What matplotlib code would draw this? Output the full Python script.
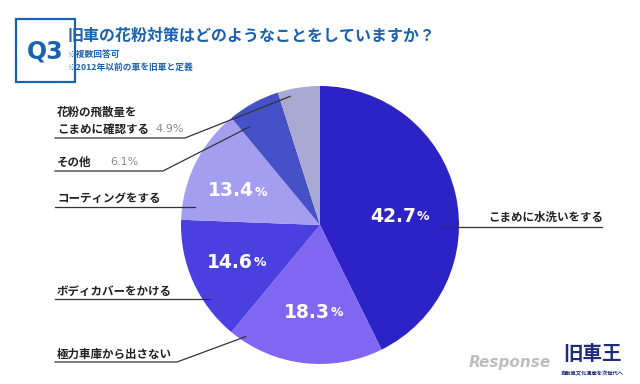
import numpy as np
import matplotlib
matplotlib.use("Agg")
import matplotlib.pyplot as plt
from matplotlib.patches import Rectangle

plt.rcParams['font.family'] = ['Noto Sans CJK JP', 'DejaVu Sans']

# survey answers, clockwise from 12 o'clock
labels = ['こまめに水洗いをする', '極力車庫から出さない', 'ボディカバーをかける',
          'コーティングをする', 'その他', '花粉の飛散量を\nこまめに確認する']
values = [42.7, 18.3, 14.6, 13.4, 6.1, 4.9]
colors = ['#2B23C6', '#7F67F1', '#4940DF', '#A59DF0', '#4651C8', '#A9A8D3']

title = '旧車の花粉対策はどのようなことをしていますか？'
notes = ['※複数回答可', '※2012年以前の車を旧車と定義']

W, H = 640, 384
blue = '#1B62AE'
line_c = '#333333'

fig = plt.figure(figsize=(6.4, 3.84), dpi=100)
ax = fig.add_axes([0, 0, 1, 1])

cx, cy, rad = 320, H - 225, 139
wedges, _ = ax.pie(values, colors=colors, startangle=90, counterclock=False,
                   center=(cx, cy), radius=rad, frame=True,
                   wedgeprops=dict(linewidth=0))
ax.set_xlim(0, W)
ax.set_ylim(0, H)
ax.axis('off')


def y(py):
    # pixel row (top down) -> data y
    return H - py


def on_wedge(w, frac, rf):
    # point inside a wedge: frac of its angular span from theta1, rf of radius
    a = np.radians(w.theta1 + frac * (w.theta2 - w.theta1))
    return cx + rf * rad * np.cos(a), cy + rf * rad * np.sin(a)


# header
ax.add_patch(Rectangle((16, y(82)), 59, 63, fill=False, ec=blue, lw=1.6))
ax.text(45.5, y(51), 'Q3', color=blue, fontsize=17, fontweight='bold',
        family='DejaVu Sans', ha='center', va='center')
ax.text(68, y(36), title, color=blue, fontsize=11.5, fontweight='bold',
        ha='left', va='center')
ax.text(68, y(54), notes[0], color=blue, fontsize=6.3, fontweight='bold',
        ha='left', va='center')
ax.text(68, y(67), notes[1], color=blue, fontsize=6.3, fontweight='bold',
        ha='left', va='center')

# percentages inside the slices: (split x, row)
inner = {0: (416, 216), 1: (330, 312), 2: (253, 262), 3: (254, 191)}
for i, (sx, sy) in inner.items():
    ax.text(sx, y(sy), f'{values[i]}', color='white', fontsize=13.5,
            fontweight='bold', family='DejaVu Sans', ha='right', va='center')
    ax.text(sx + 1, y(sy) - 1, '%', color='white', fontsize=9,
            fontweight='bold', family='DejaVu Sans', ha='left', va='center')

lab_kw = dict(color='#222222', fontsize=8.3, fontweight='bold', va='center')

# right label
ax.text(488, y(217), labels[0], ha='left', **lab_kw)
ax.plot([437, 602], [y(227), y(227)], color=line_c, lw=0.9)

# left labels with underline; some with a leader into the slice
ax.text(57, y(354), labels[1], ha='left', **lab_kw)
p = on_wedge(wedges[1], 0.09, 0.965)
ax.plot([55, 177, p[0]], [y(362), y(362), p[1]], color=line_c, lw=0.9)

ax.text(57, y(291), labels[2], ha='left', **lab_kw)
ax.plot([55, 210], [y(299), y(299)], color=line_c, lw=0.9)

ax.text(57, y(198), labels[3], ha='left', **lab_kw)
ax.plot([55, 195], [y(207), y(207)], color=line_c, lw=0.9)

ax.text(57, y(162), labels[4], ha='left', **lab_kw)
ax.text(110, y(162), f'{values[4]}%', color='#8A8A8A', fontsize=8,
        family='DejaVu Sans', ha='left', va='center')
p = on_wedge(wedges[4], 0.83, 0.87)
ax.plot([55, 163, p[0]], [y(171), y(171), p[1]], color=line_c, lw=0.9)

ax.text(57, y(121), labels[5], ha='left', linespacing=1.35, **lab_kw)
ax.text(155, y(129), f'{values[5]}%', color='#8A8A8A', fontsize=8,
        family='DejaVu Sans', ha='left', va='center')
p = on_wedge(wedges[5], 0.74, 0.95)
ax.plot([55, 185, p[0]], [y(138), y(138), p[1]], color=line_c, lw=0.9)

# watermark / logo
ax.text(551, y(363), 'Response', color='#BDBDBD', fontsize=11,
        fontweight='bold', style='italic', family='DejaVu Sans',
        ha='right', va='center')
ax.text(592, y(355), '旧車王', color='#1E2C7E', fontsize=14,
        fontweight='bold', style='italic', ha='center', va='center')
ax.text(592, y(374), '自動車文化遺産を次世代へ', color='#1E2C7E', fontsize=3.8,
        fontweight='bold', ha='center', va='center')

fig.savefig('out.png', dpi=100)
